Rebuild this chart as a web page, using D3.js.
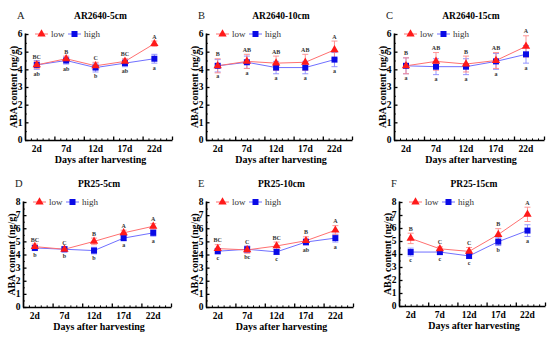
<!DOCTYPE html>
<html>
<head>
<meta charset="utf-8">
<script src="https://cdn.jsdelivr.net/npm/d3@7"></script>
<style>
  body { margin: 0; background: #fff; }
  text { font-family: "Liberation Serif", "Times New Roman", serif; }
</style>
</head>
<body>
<svg id="chart" width="550" height="337"></svg>
<script>
const days = [2, 7, 12, 17, 22];
const dayLabels = ['2d', '7d', '12d', '17d', '22d'];
const panelLetters = ['A', 'B', 'C', 'D', 'E', 'F'];
const panelTitles = ['AR2640-5cm', 'AR2640-10cm', 'AR2640-15cm', 'PR25-5cm', 'PR25-10cm', 'PR25-15cm'];
const yMaxes = [6, 6, 6, 8, 8, 8];

// low series (red) and high series (blue), ng/g
const lowA = [4.25, 4.6, 4.2, 4.45, 5.45];
const highA = [4.25, 4.5, 4.1, 4.35, 4.6];
const lowB = [4.2, 4.45, 4.35, 4.4, 5.1];
const highB = [4.2, 4.4, 4.1, 4.1, 4.55];
const lowC = [4.2, 4.45, 4.3, 4.5, 5.3];
const highC = [4.2, 4.15, 4.15, 4.45, 4.85];
const lowD = [4.6, 4.4, 5.0, 5.65, 6.15];
const highD = [4.5, 4.4, 4.3, 5.25, 5.65];
const lowE = [4.45, 4.35, 4.65, 5.05, 5.85];
const highE = [4.25, 4.4, 4.2, 4.95, 5.25];
const lowF = [5.2, 4.4, 4.2, 5.5, 7.05];
const highF = [4.15, 4.15, 3.85, 4.95, 5.8];

// error bars
const lowErrA = [0.2, 0.15, 0.2, 0.15, 0.15];
const highErrA = [0.25, 0.2, 0.25, 0.2, 0.25];
const lowErrB = [0.4, 0.4, 0.4, 0.45, 0.5];
const highErrB = [0.35, 0.35, 0.35, 0.35, 0.4];
const lowErrC = [0.45, 0.5, 0.45, 0.45, 0.6];
const highErrC = [0.45, 0.45, 0.45, 0.45, 0.5];
const lowErrD = [0.2, 0.15, 0.25, 0.2, 0.2];
const highErrD = [0.2, 0.2, 0.25, 0.2, 0.25];
const lowErrE = [0.3, 0.25, 0.3, 0.3, 0.35];
const highErrE = [0.2, 0.25, 0.2, 0.25, 0.3];
const lowErrF = [0.4, 0.15, 0.3, 0.45, 0.55];
const highErrF = [0.3, 0.2, 0.2, 0.3, 0.45];

// significance letters
const upperA = ['BC', 'B', 'C', 'BC', 'A'];
const lowerA = ['ab', 'ab', 'b', 'ab', 'a'];
const upperB = ['B', 'AB', 'AB', 'AB', 'A'];
const lowerB = ['a', 'a', 'a', 'a', 'a'];
const upperC = ['B', 'AB', 'B', 'AB', 'A'];
const lowerC = ['a', 'a', 'a', 'a', 'a'];
const upperD = ['BC', 'C', 'B', 'A', 'A'];
const lowerD = ['b', 'b', 'b', 'a', 'a'];
const upperE = ['BC', 'C', 'BC', 'B', 'A'];
const lowerE = ['c', 'bc', 'c', 'ab', 'a'];
const upperF = ['B', 'C', 'C', 'B', 'A'];
const lowerF = ['c', 'c', 'c', 'b', 'a'];

const lows = [lowA, lowB, lowC, lowD, lowE, lowF];
const highs = [highA, highB, highC, highD, highE, highF];
const lowErrs = [lowErrA, lowErrB, lowErrC, lowErrD, lowErrE, lowErrF];
const highErrs = [highErrA, highErrB, highErrC, highErrD, highErrE, highErrF];
const uppers = [upperA, upperB, upperC, upperD, upperE, upperF];
const lowers = [lowerA, lowerB, lowerC, lowerD, lowerE, lowerF];

// plot frames: left, right, top (y max), bottom (y 0)
const frames = [
  { x0: 25, x1: 172, y0: 140, y1: 34 },
  { x0: 206, x1: 352, y0: 140, y1: 34 },
  { x0: 394, x1: 544, y0: 140, y1: 34 },
  { x0: 23, x1: 171, y0: 307, y1: 202 },
  { x0: 206, x1: 353, y0: 307, y1: 202 },
  { x0: 399, x1: 545, y0: 306, y1: 202 }
];

const RED = '#ff1a1a', RED_LINE = '#ff7070', RED_ERR = '#ff8a8a';
const BLUE = '#0a0ae6', BLUE_LINE = '#7070ff', BLUE_ERR = '#8a8aff';

const svg = d3.select('#chart');

function drawPanel(i) {
  const f = frames[i];
  const g = svg.append('g');
  const x = d3.scaleLinear().domain([0, 25]).range([f.x0, f.x1]);
  const y = d3.scaleLinear().domain([0, yMaxes[i]]).range([f.y0, f.y1]);

  // y axis (ticks inward)
  g.append('g')
    .attr('transform', `translate(${f.x0},0)`)
    .call(d3.axisRight(y).tickValues(d3.range(0.5, yMaxes[i], 0.5).filter(d => d % 1)).tickSize(1.8).tickFormat(''))
    .call(a => a.select('.domain').remove());
  const ya = g.append('g')
    .attr('transform', `translate(${f.x0},0)`)
    .call(d3.axisRight(y).ticks(yMaxes[i]).tickSize(3.5).tickFormat(''));
  ya.select('.domain').attr('d', `M0.5,${f.y0 + 0.5}V${f.y1 - 0.5}`).attr('stroke-width', 1.7);
  ya.selectAll('.tick line').attr('stroke-width', 1.3);
  g.append('g').selectAll('text').data(d3.range(0, yMaxes[i] + 1)).join('text')
    .attr('x', f.x0 - 2.5).attr('y', d => y(d) + 3.3)
    .attr('text-anchor', 'end').attr('font-size', 9.5).attr('font-weight', 'bold')
    .text(d => d);

  // x axis (ticks inward)
  g.append('g')
    .attr('transform', `translate(0,${f.y0})`)
    .call(d3.axisTop(x).tickValues(d3.range(1, 25).filter(d => d % 5)).tickSize(1.6).tickFormat(''))
    .call(a => a.select('.domain').remove());
  const xa = g.append('g')
    .attr('transform', `translate(0,${f.y0})`)
    .call(d3.axisTop(x).tickValues([5, 10, 15, 20, 25]).tickSize(3.5).tickFormat(''));
  xa.select('.domain').attr('d', `M${f.x0},0.5H${f.x1 + 0.5}`).attr('stroke-width', 1.7);
  xa.selectAll('.tick line').attr('stroke-width', 1.3);
  g.append('g').selectAll('text').data(days).join('text')
    .attr('x', d => x(d)).attr('y', f.y0 + 11.5)
    .attr('text-anchor', 'middle').attr('font-size', 9.5).attr('font-weight', 'bold')
    .text((d, j) => dayLabels[j]);

  // labels
  g.append('text')
    .attr('x', (f.x0 + f.x1) / 2 + 2).attr('y', f.y0 + 23)
    .attr('text-anchor', 'middle').attr('font-size', 10).attr('font-weight', 'bold')
    .text('Days after harvesting');
  g.append('text')
    .attr('transform', `translate(${f.x0 - 8.5},${(f.y0 + f.y1) / 2}) rotate(-90)`)
    .attr('text-anchor', 'middle').attr('font-size', 10).attr('font-weight', 'bold')
    .text('ABA content (ng/g)');
  g.append('text')
    .attr('x', (f.x0 + f.x1) / 2 + 2).attr('y', f.y1 - 15)
    .attr('text-anchor', 'middle').attr('font-size', 9.5).attr('font-weight', 'bold')
    .text(panelTitles[i]);
  g.append('text')
    .attr('x', f.x0 - 8).attr('y', f.y1 - 15)
    .attr('font-size', 10.5).attr('fill', '#222')
    .text(panelLetters[i]);

  const line = d3.line().x((d, j) => x(days[j])).y(d => y(d));
  const series = [
    { vals: highs[i], errs: highErrs[i], line: BLUE_LINE, err: BLUE_ERR, fill: BLUE, shape: d3.symbolSquare, size: 36 },
    { vals: lows[i], errs: lowErrs[i], line: RED_LINE, err: RED_ERR, fill: RED, shape: d3.symbolTriangle, size: 30 }
  ];

  series.forEach(s => {
    g.append('path').attr('d', line(s.vals))
      .attr('fill', 'none').attr('stroke', s.line).attr('stroke-width', 1);
  });
  series.forEach(s => {
    const eb = g.append('g').attr('stroke', s.err).attr('stroke-width', 0.9);
    s.vals.forEach((v, j) => {
      const cx = x(days[j]);
      eb.append('line').attr('x1', cx).attr('x2', cx).attr('y1', y(v - s.errs[j])).attr('y2', y(v + s.errs[j]));
      [v - s.errs[j], v + s.errs[j]].forEach(e => {
        eb.append('line').attr('x1', cx - 3).attr('x2', cx + 3).attr('y1', y(e)).attr('y2', y(e));
      });
    });
  });
  series.forEach(s => {
    g.append('g').selectAll('path').data(s.vals).join('path')
      .attr('transform', (v, j) => `translate(${x(days[j])},${y(v)})`)
      .attr('d', d3.symbol().type(s.shape).size(s.size))
      .attr('fill', s.fill);
  });

  // significance letters
  g.append('g').selectAll('text').data(uppers[i]).join('text')
    .attr('x', (d, j) => x(days[j])).attr('y', (d, j) => y(lows[i][j] + lowErrs[i][j]) - 2.5)
    .attr('text-anchor', 'middle').attr('font-size', 6).attr('font-weight', 'bold').attr('fill', '#333')
    .text(d => d);
  g.append('g').selectAll('text').data(lowers[i]).join('text')
    .attr('x', (d, j) => x(days[j])).attr('y', (d, j) => y(highs[i][j] - highErrs[i][j]) + 6.5)
    .attr('text-anchor', 'middle').attr('font-size', 6).attr('font-weight', 'bold').attr('fill', '#333')
    .text(d => d);

  // legend
  const ly = f.y1;
  const lx = f.x0 + 10;
  const leg = [
    { dx: 0, label: 'low', line: RED_LINE, fill: RED, shape: d3.symbolTriangle, size: 30 },
    { dx: 33, label: 'high', line: BLUE_LINE, fill: BLUE, shape: d3.symbolSquare, size: 36 }
  ];
  leg.forEach(l => {
    g.append('line').attr('x1', lx + l.dx).attr('x2', lx + l.dx + 13).attr('y1', ly).attr('y2', ly)
      .attr('stroke', l.line).attr('stroke-width', 1);
    g.append('path').attr('transform', `translate(${lx + l.dx + 6.5},${ly})`)
      .attr('d', d3.symbol().type(l.shape).size(l.size)).attr('fill', l.fill);
    g.append('text').attr('x', lx + l.dx + 16).attr('y', ly + 3)
      .attr('font-size', 9).attr('fill', '#333').text(l.label);
  });
}

panelLetters.forEach((p, i) => drawPanel(i));
</script>
</body>
</html>
